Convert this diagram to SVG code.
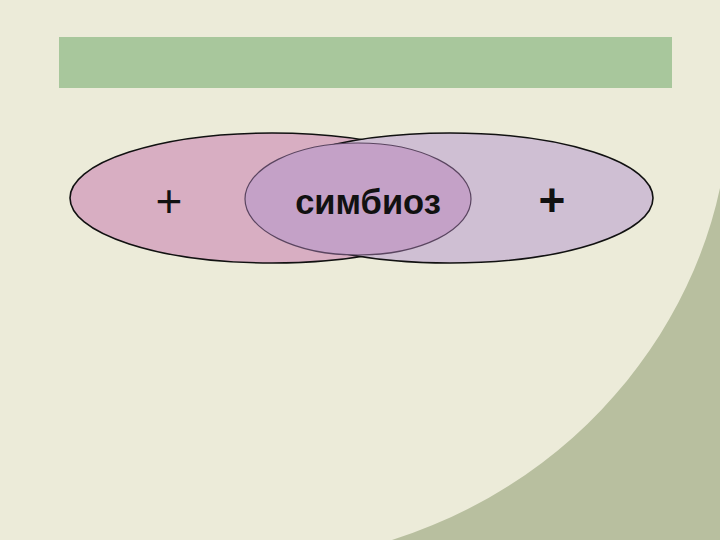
<svg xmlns="http://www.w3.org/2000/svg" width="720" height="540" viewBox="0 0 720 540">
<style>
.lbl{font-family:"Liberation Sans",Arial,sans-serif;fill:#111;text-anchor:middle}
.big{stroke:#111;stroke-width:1.6}
</style>
<rect x="0" y="0" width="720" height="540" fill="#ECEBD9"/>
<path d="M720,188 C690,330 580,480 392,540 L720,540 Z" fill="#B8BF9F"/>
<rect x="59" y="37" width="613" height="51" fill="#A8C79C"/>
<g id="left">
<ellipse cx="272" cy="198" rx="202" ry="65" fill="#D8AEC2" class="big"/>
</g>
<g id="right">
<ellipse cx="450" cy="198" rx="203" ry="65" fill="#CFBFD3" class="big"/>
</g>
<g id="middle">
<ellipse cx="358" cy="199" rx="113" ry="56" fill="#C4A1C7" stroke="#5a4560" stroke-width="1.2"/>
<text class="lbl" x="368" y="214" font-size="34.5" font-weight="bold">симбиоз</text>
</g>
<g id="plus-left"><text class="lbl" x="169" y="217" font-size="46">+</text></g>
<g id="plus-right"><text class="lbl" x="552" y="216" font-size="46" font-weight="bold">+</text></g>
<g id="connectors"/>
</svg>
